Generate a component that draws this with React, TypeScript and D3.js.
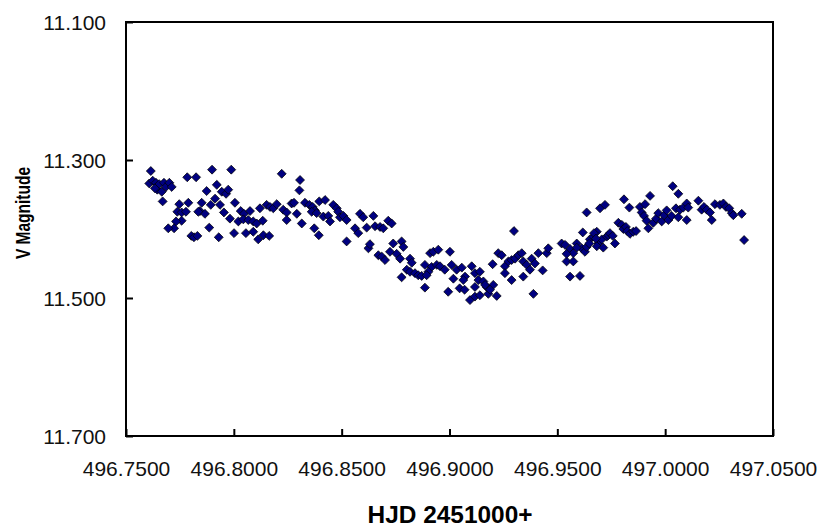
import { useEffect, useRef } from 'react'
import * as d3 from 'd3'

// HJD - 2451000, V magnitude
const obsEarly: [number, number][] = [
  [496.7615, 11.316], [496.7608, 11.334], [496.7624, 11.330], [496.7639, 11.333], [496.7645, 11.343],
  [496.7654, 11.335], [496.7666, 11.346], [496.7676, 11.333], [496.7685, 11.339], [496.7701, 11.333],
  [496.7712, 11.339], [496.7634, 11.341], [496.7670, 11.360], [496.7784, 11.325], [496.7825, 11.325],
  [496.7899, 11.314], [496.7988, 11.314], [496.7921, 11.336], [496.7874, 11.345], [496.7944, 11.346],
  [496.7964, 11.349], [496.7974, 11.343], [496.7913, 11.356], [496.7893, 11.365], [496.7936, 11.365],
  [496.7851, 11.362], [496.7843, 11.374], [496.7866, 11.378], [496.7835, 11.375], [496.7747, 11.364],
  [496.7789, 11.362], [496.7738, 11.375], [496.7758, 11.376], [496.7778, 11.375], [496.7758, 11.388],
  [496.7732, 11.389], [496.7723, 11.399], [496.7696, 11.399], [496.7886, 11.398], [496.7803, 11.410],
  [496.7815, 11.412], [496.7831, 11.410], [496.7930, 11.412], [496.7954, 11.376], [496.7982, 11.385],
  [496.8005, 11.362], [496.8032, 11.374], [496.8047, 11.378], [496.8075, 11.374], [496.8021, 11.389],
  [496.8044, 11.386], [496.8067, 11.387], [496.8090, 11.389], [496.8106, 11.392], [496.8134, 11.388],
  [496.8001, 11.406], [496.8056, 11.406], [496.8090, 11.404], [496.8113, 11.415], [496.8137, 11.409],
  [496.8164, 11.410], [496.8121, 11.370], [496.8152, 11.365], [496.8168, 11.368], [496.8183, 11.370],
  [496.8199, 11.364], [496.8222, 11.320], [496.8229, 11.372], [496.8245, 11.376], [496.8268, 11.363],
  [496.8279, 11.362], [496.8245, 11.387], [496.8292, 11.378], [496.8315, 11.392], [496.8307, 11.329],
  [496.8304, 11.344], [496.8330, 11.362], [496.8350, 11.365], [496.8366, 11.368], [496.8376, 11.373],
  [496.8396, 11.360], [496.8423, 11.358], [496.8361, 11.375], [496.8384, 11.377], [496.8373, 11.399],
  [496.8394, 11.409], [496.8415, 11.382], [496.8438, 11.381], [496.8446, 11.389], [496.8461, 11.365],
  [496.8477, 11.370], [496.8484, 11.375], [496.8492, 11.383], [496.8508, 11.381], [496.8523, 11.387],
  [496.8523, 11.418], [496.8562, 11.399], [496.8577, 11.406], [496.8585, 11.378], [496.8600, 11.383],
  [496.8616, 11.398], [496.8624, 11.428],
]

const obsMid: [number, number][] = [
  [496.8647, 11.381], [496.8655, 11.396], [496.8678, 11.397], [496.8693, 11.399], [496.8716, 11.388],
  [496.8732, 11.392], [496.8631, 11.422], [496.8670, 11.438], [496.8686, 11.440], [496.8701, 11.445],
  [496.8724, 11.433], [496.8739, 11.421], [496.8755, 11.436], [496.8778, 11.418], [496.8786, 11.426],
  [496.8771, 11.443], [496.8817, 11.443], [496.8825, 11.449], [496.8802, 11.459], [496.8817, 11.462],
  [496.8840, 11.464], [496.8855, 11.467], [496.8871, 11.468], [496.8778, 11.470], [496.8886, 11.452],
  [496.8910, 11.435], [496.8925, 11.433], [496.8948, 11.430], [496.8917, 11.455], [496.8941, 11.452],
  [496.8956, 11.454], [496.8902, 11.462], [496.8894, 11.467], [496.8886, 11.485], [496.8978, 11.459],
  [496.9002, 11.433], [496.9010, 11.452], [496.9033, 11.459], [496.9057, 11.456], [496.9072, 11.469],
  [496.9064, 11.474], [496.9018, 11.472], [496.8994, 11.491], [496.9047, 11.486], [496.9070, 11.488],
  [496.9103, 11.454], [496.9118, 11.464], [496.9141, 11.462], [496.9134, 11.474], [496.9157, 11.476],
  [496.9172, 11.484], [496.9118, 11.484], [496.9095, 11.503], [496.9118, 11.498], [496.9141, 11.496],
  [496.9180, 11.494], [496.9219, 11.497], [496.9165, 11.481], [496.9203, 11.481], [496.9188, 11.488],
  [496.9200, 11.451], [496.9226, 11.435], [496.9242, 11.438], [496.9257, 11.454], [496.9273, 11.447],
  [496.9288, 11.445], [496.9304, 11.443], [496.9319, 11.438], [496.9335, 11.435], [496.9288, 11.474],
  [496.9257, 11.464], [496.9299, 11.403], [496.9342, 11.447], [496.9358, 11.452], [496.9373, 11.459],
  [496.9381, 11.443], [496.9396, 11.450], [496.9412, 11.435], [496.9432, 11.460], [496.9451, 11.435],
  [496.9458, 11.428], [496.9389, 11.494], [496.9342, 11.469],
]

const obsLate: [number, number][] = [
  [496.9520, 11.421], [496.9536, 11.423], [496.9559, 11.429], [496.9574, 11.435], [496.9590, 11.421],
  [496.9613, 11.428], [496.9628, 11.433], [496.9543, 11.447], [496.9574, 11.447], [496.9559, 11.469],
  [496.9605, 11.468], [496.9618, 11.405], [496.9636, 11.376], [496.9651, 11.415], [496.9667, 11.411],
  [496.9683, 11.404], [496.9690, 11.421], [496.9706, 11.415], [496.9729, 11.411], [496.9698, 11.370],
  [496.9721, 11.365], [496.9543, 11.436], [496.9590, 11.427], [496.9636, 11.426], [496.9648, 11.421],
  [496.9670, 11.406], [496.9679, 11.414], [496.9683, 11.425], [496.9713, 11.427], [496.9736, 11.409],
  [496.9744, 11.406], [496.9757, 11.410], [496.9767, 11.421], [496.9783, 11.391], [496.9799, 11.394],
  [496.9806, 11.400], [496.9818, 11.397], [496.9824, 11.403], [496.9837, 11.407], [496.9852, 11.404],
  [496.9865, 11.403], [496.9809, 11.357], [496.9834, 11.369], [496.9883, 11.368], [496.9907, 11.364],
  [496.9930, 11.352], [496.9891, 11.376], [496.9902, 11.381], [496.9914, 11.388], [496.9922, 11.399],
  [496.9945, 11.391], [496.9958, 11.385], [496.9968, 11.377], [496.9984, 11.389], [496.9995, 11.380],
  [497.0007, 11.373], [497.0015, 11.387], [497.0030, 11.381], [497.0050, 11.370], [497.0061, 11.383],
  [497.0069, 11.372], [497.0084, 11.369], [497.0100, 11.363], [497.0107, 11.369], [497.0100, 11.387],
  [497.0035, 11.338], [497.0061, 11.349], [497.0154, 11.359], [497.0169, 11.372], [497.0180, 11.368],
  [497.0193, 11.372], [497.0208, 11.376], [497.0216, 11.387], [497.0231, 11.364], [497.0254, 11.365],
  [497.0270, 11.363], [497.0282, 11.368], [497.0297, 11.370], [497.0309, 11.377], [497.0316, 11.380],
  [497.0355, 11.378], [497.0366, 11.416],
]

const xTicks = [496.75, 496.8, 496.85, 496.9, 496.95, 497.0, 497.05]
const yTicks = [11.1, 11.3, 11.5, 11.7]

const FONT = '"Liberation Sans", Arial, sans-serif'

function LightCurve() {
  const ref = useRef<SVGSVGElement | null>(null)

  useEffect(() => {
    const el = ref.current
    if (!el) return
    const width = 825
    const height = 528
    const plot = { left: 126, right: 773, top: 22, bottom: 436 }
    const svg = d3.select(el)
    svg.selectAll('*').remove()

    svg.append('rect').attr('width', width).attr('height', height).attr('fill', '#fff')

    const x = d3.scaleLinear().domain([496.75, 497.05]).range([plot.left, plot.right])
    const y = d3.scaleLinear().domain([11.1, 11.7]).range([plot.top, plot.bottom])

    svg
      .append('g')
      .attr('transform', `translate(0,${plot.bottom})`)
      .call(d3.axisBottom(x).tickValues(xTicks).tickSize(-7).tickFormat(d3.format('.4f')))
      .call((g) => g.select('.domain').remove())
      .call((g) => g.selectAll('line').attr('stroke', '#000').attr('stroke-width', 2))
      .call((g) =>
        g
          .selectAll('text')
          .attr('y', 40)
          .attr('dy', 0)
          .attr('fill', '#111')
          .attr('font-family', FONT)
          .attr('font-size', 21),
      )

    svg
      .append('g')
      .attr('transform', `translate(${plot.left},0)`)
      .call(d3.axisLeft(y).tickValues(yTicks).tickSize(-7).tickFormat(d3.format('.3f')))
      .call((g) => g.select('.domain').remove())
      .call((g) => g.selectAll('line').attr('stroke', '#000').attr('stroke-width', 2))
      .call((g) =>
        g
          .selectAll('text')
          .attr('x', -20)
          .attr('dy', '0.36em')
          .attr('fill', '#111')
          .attr('font-family', FONT)
          .attr('font-size', 21),
      )

    svg
      .append('rect')
      .attr('x', plot.left)
      .attr('y', plot.top)
      .attr('width', plot.right - plot.left)
      .attr('height', plot.bottom - plot.top)
      .attr('fill', 'none')
      .attr('stroke', '#000')
      .attr('stroke-width', 2)

    const points = [...obsEarly, ...obsMid, ...obsLate]
    const diamond = d3.symbol(d3.symbolSquare, 40)

    svg
      .append('g')
      .selectAll('path')
      .data(points)
      .enter()
      .append('path')
      .attr('d', diamond)
      .attr('transform', (d) => `translate(${x(d[0])},${y(d[1])}) rotate(45)`)
      .attr('fill', '#000080')
      .attr('stroke', '#000')
      .attr('stroke-width', 0.7)

    svg
      .append('text')
      .attr('x', 450)
      .attr('y', 523)
      .attr('text-anchor', 'middle')
      .attr('font-family', FONT)
      .attr('font-weight', 'bold')
      .attr('font-size', 23)
      .attr('textLength', 165)
      .attr('lengthAdjust', 'spacingAndGlyphs')
      .text('HJD 2451000+')

    svg
      .append('text')
      .attr('transform', 'translate(30,213) rotate(-90)')
      .attr('text-anchor', 'middle')
      .attr('font-family', FONT)
      .attr('font-weight', 'bold')
      .attr('font-size', 21)
      .attr('textLength', 92)
      .attr('lengthAdjust', 'spacingAndGlyphs')
      .text('V Magnitude')
  }, [])

  return (
    <svg
      ref={ref}
      width={825}
      height={528}
      style={{ position: 'absolute', left: 0, top: 0, display: 'block' }}
    />
  )
}

export default function App() {
  return <LightCurve />
}
